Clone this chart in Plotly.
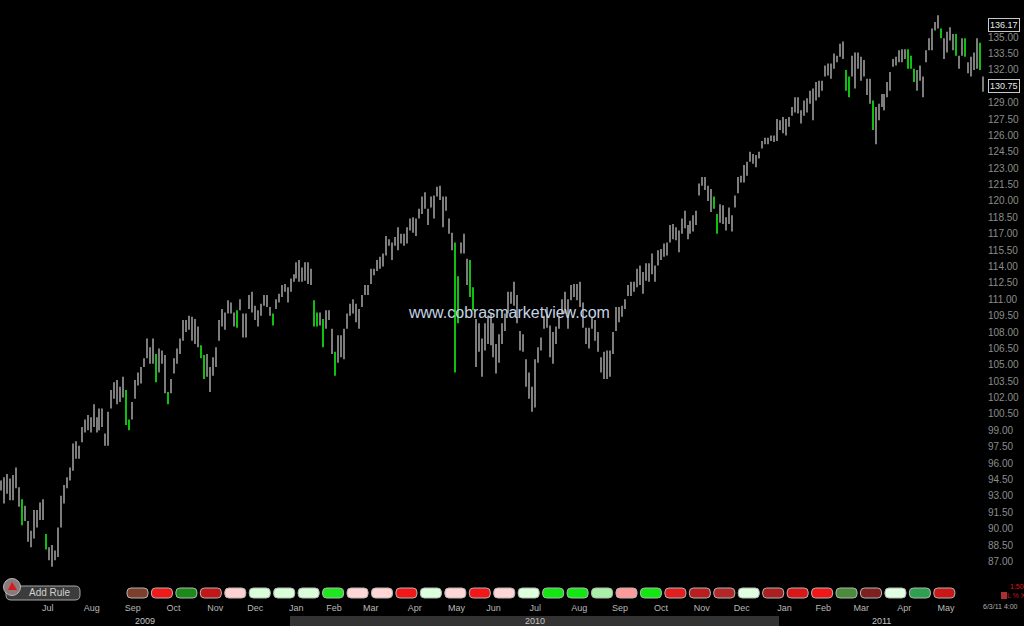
import plotly.graph_objects as go

highs = [
94.4,94.7,95.0,94.6,94.9,95.6,93.8,92.7,92.1,90.7,89.8,91.7,91.7,92.4,92.7,89.5,88.3,88.5,88.0,90.1,
93.0,94.0,94.7,95.6,97.8,98.0,97.6,99.3,100.0,100.4,100.2,101.4,100.2,101.0,101.0,98.7,100.7,102.7,103.4,103.6,
103.0,103.9,102.7,100.0,101.6,103.6,104.3,104.8,105.6,107.4,106.6,107.4,106.0,106.5,106.3,105.9,102.5,103.7,105.6,106.5,
107.4,
109.1,109.1,109.5,109.4,109.2,108.5,106.8,105.9,106.0,104.8,105.7,106.6,109.1,110.1,109.8,110.9,110.7,109.8,110.0,111.0,
109.7,109.7,111.4,111.7,110.4,110.0,110.6,111.4,111.4,110.3,109.7,111.0,111.5,112.3,112.4,112.1,112.9,113.3,114.4,114.6,
113.9,114.4,114.4,113.8,110.9,109.8,109.8,109.2,110.0,110.0,108.3,106.2,107.7,107.7,108.3,109.7,
110.6,111.0,110.6,110.1,111.4,112.3,112.3,113.8,113.8,114.6,114.9,115.2,116.8,116.5,116.2,116.7,117.6,117.0,117.0,117.6,
118.4,118.5,118.4,119.3,120.4,120.8,119.3,120.4,120.5,121.3,121.4,120.4,120.4,118.4,117.1,116.2,113.1,116.2,117.0,114.7,
114.6,112.1,109.2,108.8,107.4,108.8,109.5,109.7,108.8,106.9,107.8,108.8,109.7,111.7,111.7,112.6,111.4,
108.1,107.8,105.5,104.3,103.0,105.5,106.6,107.5,109.5,110.3,108.6,108.0,108.5,109.5,111.0,111.7,111.0,112.3,112.4,112.4,
112.6,110.7,108.4,108.4,109.4,109.1,108.0,105.7,106.2,106.3,106.3,108.0,110.3,110.3,110.4,111.0,112.3,112.6,112.6,113.8,
114.1,113.5,114.3,114.3,115.2,114.1,115.5,115.6,116.1,116.2,117.8,117.9,117.6,117.3,118.4,119.1,117.8,
118.2,118.7,119.1,121.6,122.2,122.2,121.4,121.1,120.4,118.8,119.7,119.6,118.5,119.4,118.7,120.5,122.2,122.3,123.3,123.6,
124.5,124.3,124.2,124.5,125.5,125.8,125.8,126.0,126.0,127.5,127.4,127.7,127.5,127.7,128.6,129.5,129.5,128.3,129.2,129.4,
130.1,130.3,130.9,131.0,131.0,
132.4,132.6,132.6,133.5,133.3,134.4,134.6,132.0,131.4,133.3,133.6,133.6,133.2,132.9,131.2,131.2,129.2,128.6,128.9,129.8,
129.8,130.9,131.8,133.0,133.2,133.8,133.9,133.9,133.9,133.3,132.1,132.0,132.4,131.4,133.8,134.9,135.8,136.4,137.0,135.8,
134.9,135.5,135.9,135.3,135.3,133.3,134.9,134.9,132.7,133.2,133.6,134.9,134.5,131.4,
]
lows = [
93.5,92.3,93.2,92.6,92.6,93.7,92.0,90.3,90.7,88.8,88.3,89.1,90.1,90.8,90.8,88.1,87.1,86.5,87.1,87.4,
90.1,92.3,93.7,94.4,95.3,96.4,96.4,97.9,98.8,99.0,98.8,99.3,98.8,99.0,99.3,97.6,97.6,101.0,101.9,101.4,
101.6,102.0,99.5,99.0,100.0,101.9,103.1,103.3,104.8,105.6,105.1,105.1,103.4,104.3,105.1,102.4,101.4,102.4,104.2,105.1,
106.0,
107.2,108.0,108.2,107.2,106.9,106.6,105.6,103.7,103.9,102.5,104.0,104.8,107.2,108.5,108.2,109.7,109.7,108.5,108.4,110.0,
107.5,107.5,110.1,109.8,109.1,108.5,109.5,110.4,110.3,109.5,108.6,110.1,110.7,111.2,111.7,110.7,111.7,112.6,112.9,112.6,
112.6,112.7,112.4,112.3,108.5,108.5,108.6,106.6,108.3,109.1,106.0,104.0,105.2,105.7,105.5,108.3,
109.5,109.7,108.9,108.3,110.3,111.4,111.4,112.4,113.2,113.6,113.8,114.0,115.0,115.9,114.6,115.9,115.5,116.1,115.9,116.1,
117.3,117.1,116.8,118.4,118.8,119.3,117.8,119.4,118.4,120.4,120.1,117.6,119.1,117.0,115.5,104.3,108.8,115.2,115.2,112.3,
111.2,110.0,104.8,106.2,103.9,106.3,106.9,106.8,105.7,104.2,105.2,106.9,108.1,109.7,110.6,110.4,108.8,
106.3,106.2,103.0,101.9,100.7,101.1,105.2,106.3,108.3,108.4,105.7,105.1,106.9,108.3,109.7,109.7,108.3,110.9,111.2,110.9,
110.3,108.4,106.9,106.5,108.3,107.2,106.2,104.3,103.7,103.7,103.9,106.0,108.1,108.9,109.4,110.1,111.3,111.3,111.7,112.1,
112.3,111.5,112.7,112.6,113.3,112.6,114.1,114.6,114.9,115.0,116.2,116.5,116.4,115.3,117.0,117.5,116.5,
117.0,117.2,117.8,120.5,121.4,121.0,120.0,119.0,119.3,117.0,118.0,117.9,117.3,117.9,117.2,119.4,120.7,121.7,121.7,122.3,
123.6,123.4,123.1,123.9,124.8,125.2,125.2,125.5,125.4,125.5,126.5,126.2,126.0,126.8,127.8,128.1,128.0,127.1,127.8,128.1,
128.9,127.4,129.2,129.5,130.1,
131.4,131.5,131.2,132.1,132.7,133.2,133.0,130.1,129.5,131.4,130.3,132.1,131.0,131.4,129.7,128.9,126.5,125.2,127.4,128.6,
128.3,129.5,130.1,132.3,132.4,132.7,132.7,133.0,132.1,132.1,130.9,130.1,131.0,129.5,132.7,133.8,133.8,135.6,135.8,134.9,
133.0,133.6,134.7,133.8,133.3,132.1,133.3,133.2,131.7,131.4,132.0,132.1,132.0,130.0,
]
green_bars = [7,15,42,43,52,56,67,68,79,91,105,106,108,112,152,153,157,158,239,240,283,284,292,304,305,306,315,320,323,328]

month_labels = ["Jul","Aug","Sep","Oct","Nov","Dec","Jan","Feb","Mar","Apr","May","Jun",
                "Jul","Aug","Sep","Oct","Nov","Dec","Jan","Feb","Mar","Apr","May"]
month_bars = [15.7,30.4,44.1,57.8,71.8,85.2,98.9,111.6,123.9,138.6,152.6,165,
              179,193.7,207.4,221.1,234.8,248.2,262.5,275.5,288.2,302.6,316.6]
# 130.50 and 136.50 sit behind the boxed price labels in the reference
price_ticks = [87.0,88.5,90.0,91.5,93.0,94.5,96.0,97.5,99.0,100.5,102.0,103.5,105.0,106.5,108.0,109.5,111.0,112.5,
               114.0,115.5,117.0,118.5,120.0,121.5,123.0,124.5,126.0,127.5,129.0,132.0,133.5,135.0,138.0]
pill_colors = ["#7c3f2c","#ef1a1a","#1b8a1b","#c01818","#ffd0d0","#d8ffd8","#d8ffd8","#d8ffd8","#20e620",
               "#ffd5d5","#ffd5d5","#f01818","#dcffdc","#ffd5d5","#f01818","#ffd5d5","#dcffdc","#14e614",
               "#14e614","#a8f0a8","#ff9a9a","#14e614","#e02020","#b82020","#b02828","#e0ffe0","#a82020",
               "#d81818","#ee1818","#4c8a3c","#7c2020","#e0ffe0","#2ea050","#c81818"]
last_high, last_low = 136.17, 130.75

W, H = 1024, 626
PLOT_W, PLOT_H = 987, 575
px = lambda v: v / W
py = lambda v: 1 - v / H

all_idx = list(range(len(highs)))
grey = [i for i in all_idx if i not in green_bars]

def bar_trace(idx, color):
    return go.Bar(x=idx, base=[lows[i] for i in idx], y=[highs[i] - lows[i] for i in idx],
                  width=0.34, marker=dict(color=color, line=dict(width=0)), showlegend=False,
                  hoverinfo="skip")

fig = go.Figure([bar_trace(grey, "#7c7c7c"), bar_trace(green_bars, "#10c010")])

def rrect(x0, y0, x1, y1, r):
    X0, X1, Y0, Y1 = px(x0), px(x1), py(y0), py(y1)
    rx, ry = r / W, r / H
    return (f"M{X0+rx},{Y0} L{X1-rx},{Y0} Q{X1},{Y0} {X1},{Y0-ry} L{X1},{Y1+ry} Q{X1},{Y1} {X1-rx},{Y1} "
            f"L{X0+rx},{Y1} Q{X0},{Y1} {X0},{Y1+ry} L{X0},{Y0-ry} Q{X0},{Y0} {X0+rx},{Y0} Z")

shapes = []
# year band
shapes.append(dict(type="rect", xref="paper", yref="paper", x0=px(290), x1=px(779), y0=0, y1=py(616),
                   fillcolor="#333333", line=dict(width=0), layer="below"))
# status pills
for k, c in enumerate(pill_colors):
    cx = 137.5 + k * 24.45
    shapes.append(dict(type="path", xref="paper", yref="paper", path=rrect(cx - 10.5, 588, cx + 10.5, 598, 4),
                       fillcolor=c, line=dict(color="#b4b4b4", width=1)))
# Add Rule button
shapes.append(dict(type="path", xref="paper", yref="paper", path=rrect(6, 586, 80, 600, 5),
                   fillcolor="#3c3c3c", line=dict(color="#a8a8a8", width=1)))
shapes.append(dict(type="circle", xref="paper", yref="paper", x0=px(3.5), x1=px(20.5), y0=py(595.5), y1=py(578.5),
                   fillcolor="#8a7a7a", line=dict(color="#b8b8b8", width=1)))
shapes.append(dict(type="path", xref="paper", yref="paper",
                   path=f"M{px(8)},{py(590)} L{px(12)},{py(582)} L{px(17)},{py(590)} Z",
                   fillcolor="#d81820", line=dict(width=0)))
# small red flag
shapes.append(dict(type="rect", xref="paper", yref="paper", x0=px(1001), x1=px(1007), y0=py(599), y1=py(592),
                   fillcolor="#a83030", line=dict(width=0)))

FONT = "Liberation Sans, Arial, sans-serif"
def note(text, x, y, size, color, **kw):
    return dict(text=text, xref="paper", yref="paper", x=px(x), y=py(y), showarrow=False,
                xanchor="center", yanchor="middle",
                font=dict(family=FONT, size=size, color=color), **kw)

annotations = [
    note("www.cobrasmarketview.com", 508.5, 312, 16, "#c4d4e4"),
    note("Add Rule", 50, 592.5, 10, "#d0d0d0"),
    note("2009", 145, 621, 9, "#c4c4c4"),
    note("2010", 535, 621, 9, "#c4c4c4"),
    note("2011", 881, 621, 9, "#c4c4c4"),
    note("6/3/11 4:00", 1000, 606.5, 7, "#b0b0b0"),
    note("1.50", 1017, 586.5, 7, "#e01010"),
    note("L % X", 1016, 595, 7, "#c81818"),
]
for val, yshift in ((last_high, -1), (last_low, -2)):
    annotations.append(dict(text=f"{val:.2f}", xref="paper", yref="y", x=px(1003.5), y=val, yshift=yshift,
                            xanchor="center", yanchor="middle",
                            showarrow=False, bgcolor="#000000", bordercolor="#c8c8c8", borderwidth=1, borderpad=1,
                            font=dict(family=FONT, size=9, color="#e8e8e8")))

step = 982 / (len(highs) - 1)
fig.update_layout(
    width=W, height=H, margin=dict(l=0, r=0, t=0, b=0), autosize=False,
    paper_bgcolor="#000000", plot_bgcolor="#000000", barmode="overlay", showlegend=False,
    shapes=shapes, annotations=annotations,
    font=dict(family=FONT),
    xaxis=dict(domain=[0, PLOT_W / W], range=[-1 / step, (PLOT_W - 1) / step],
               tickmode="array", tickvals=month_bars, ticktext=month_labels,
               anchor="free", position=py(601), showgrid=False, zeroline=False, showline=False, ticks="",
               tickfont=dict(family=FONT, size=9, color="#b8b8b8"), tickangle=0),
    yaxis=dict(domain=[py(PLOT_H), 1], range=[87 - 13.6 / 10.92, 138 + 4.4 / 10.92], side="right",
               tickmode="array", tickvals=price_ticks, tickformat=".2f",
               showgrid=False, zeroline=False, showline=False, ticks="",
               tickfont=dict(family=FONT, size=10, color="#8c8c8c")),
)

fig.write_html("out.html", config={"displayModeBar": False},
               post_script="document.body.style.margin='0';document.body.style.background='#000';")
